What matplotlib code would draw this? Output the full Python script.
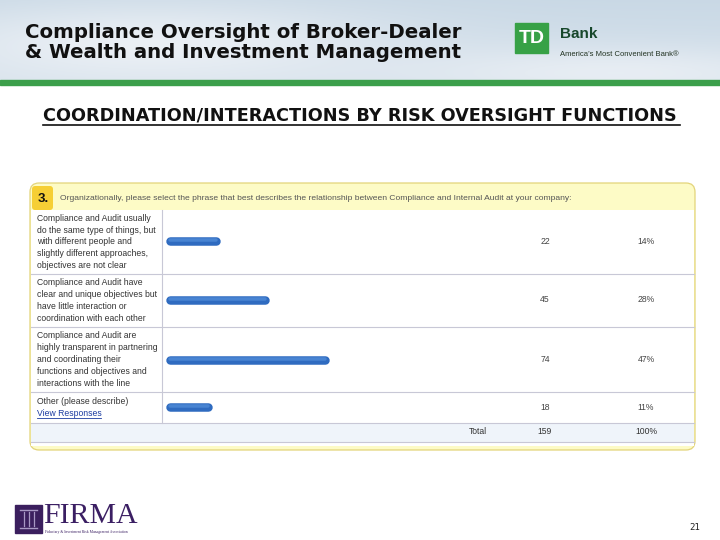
import numpy as np
import matplotlib
matplotlib.use("Agg")
import matplotlib.pyplot as plt
from matplotlib.patches import FancyBboxPatch, Rectangle

# ---------------- data ----------------
question_no = "3."
question = ("Organizationally, please select the phrase that best describes the "
            "relationship between Compliance and Internal Audit at your company:")
categories = [
    ["Compliance and Audit usually", "do the same type of things, but",
     "with different people and", "slightly different approaches,",
     "objectives are not clear"],
    ["Compliance and Audit have", "clear and unique objectives but",
     "have little interaction or", "coordination with each other"],
    ["Compliance and Audit are", "highly transparent in partnering",
     "and coordinating their", "functions and objectives and",
     "interactions with the line"],
    ["Other (please describe)"],
]
link_text = "View Responses"
counts = [22, 45, 74, 18]
percents = ["14%", "28%", "47%", "11%"]
total_label = "Total"
total_count = 159
total_pct = "100%"

title_lines = ["Compliance Oversight of Broker-Dealer", "& Wealth and Investment Management"]
subtitle = "COORDINATION/INTERACTIONS BY RISK OVERSIGHT FUNCTIONS"
page_no = "21"

# ---------------- layout (pixels) ----------------
W, H = 720, 540
row_bounds = [210, 274, 327, 392, 423]
bar_rows_center = [241, 300, 360, 407]
px_per_count = 2.1
bar_x0 = 170
line_pitch = 11.8
TXT = 6.25

fig = plt.figure(figsize=(7.2, 5.4), dpi=100)
ax = fig.add_axes([0, 0, 1, 1])
ax.set_xlim(0, W)
ax.set_ylim(H, 0)
ax.axis("off")

# header sky background
yy, xx = np.mgrid[0:80, 0:720]
base = np.array([0.79, 0.85, 0.90])
light = np.array([0.95, 0.96, 0.975])
t = 0.65 * np.exp(-((xx - 150) / 230.0) ** 2 - ((yy - 40) / 40.0) ** 2) \
    + 0.45 * np.exp(-((xx - 620) / 200.0) ** 2 - ((yy - 70) / 25.0) ** 2) \
    + 0.30 * (yy / 80.0)
t = np.clip(t, 0, 1)[..., None]
img = base * (1 - t) + light * t
ax.imshow(img, extent=(0, 720, 80, 0), aspect="auto", zorder=0)
ax.add_patch(Rectangle((0, 80), 720, 4.5, color="#3c9f4b", zorder=1))

# title
for i, line in enumerate(title_lines):
    ax.text(25, 38 + 20 * i, line, fontsize=14.2, fontweight="bold",
            family="DejaVu Sans", color="#111111", va="baseline", ha="left")

# TD logo
ax.add_patch(Rectangle((515, 23), 33, 30, color="#37a146", zorder=2))
ax.text(531.5, 38.5, "TD", color="white", fontsize=14, fontweight="bold",
        ha="center", va="center", family="Liberation Sans", zorder=3)
ax.text(560, 34, "Bank", color="#17472b", fontsize=11, fontweight="bold",
        ha="left", va="center", family="Liberation Sans")
ax.text(560, 55, "America\u2019s Most Convenient Bank\u00ae", color="#223322",
        fontsize=5.5, ha="left", va="center", family="Liberation Sans")

# subtitle (underlined)
ax.text(43, 121, subtitle, fontsize=12.7, fontweight="bold",
        family="DejaVu Sans", color="#111111", va="baseline", ha="left")
ax.plot([43, 680], [124.5, 124.5], color="#111111", lw=1.2)

# survey box
box = FancyBboxPatch((30, 183), 665, 267, boxstyle="round,pad=0,rounding_size=9",
                     fc="#fdfbc6", ec="#e3d47a", lw=0.9, zorder=2)
ax.add_patch(box)
ax.add_patch(Rectangle((31, 210), 663, 236, fc="white", ec="none", zorder=3))
ax.add_patch(Rectangle((31, 423), 663, 19, fc="#eff4fa", ec="none", zorder=3))
ax.add_patch(FancyBboxPatch((32, 186), 21, 24, boxstyle="round,pad=0,rounding_size=3",
                            fc="#f6cf35", ec="none", zorder=3))
ax.text(38, 199, question_no, fontsize=9.5, fontweight="bold", color="#111111",
        va="center", ha="left", family="Liberation Sans", zorder=4)
ax.text(60, 198, question, fontsize=6.1, color="#555555", va="center",
        ha="left", family="Liberation Sans", zorder=4)

for yb in row_bounds[1:] + [442]:
    ax.plot([31, 694], [yb, yb], color="#c8c8d6", lw=0.8, zorder=4)
ax.plot([162, 162], [row_bounds[0], row_bounds[-1]], color="#c8c8d6", lw=0.8, zorder=4)

for r, lines in enumerate(categories):
    top, bot = row_bounds[r], row_bounds[r + 1]
    n = len(lines) + (1 if r == 3 else 0)
    y0 = (top + bot) / 2 - (n - 1) * line_pitch / 2
    for k, line in enumerate(lines):
        ax.text(37, y0 + line_pitch * k, line, fontsize=TXT, color="#333333",
                va="center", ha="left", family="Liberation Sans", zorder=5)
    if r == 3:
        ax.text(37, y0 + line_pitch, link_text, fontsize=TXT, color="#1a3aa0",
                va="center", ha="left", family="Liberation Sans", zorder=5)
        ax.plot([37, 101], [y0 + line_pitch + 4.8, y0 + line_pitch + 4.8],
                color="#1a3aa0", lw=0.6, zorder=5)
    ax.text(545, bar_rows_center[r], str(counts[r]), fontsize=TXT, color="#444444",
            va="center", ha="center", family="Liberation Sans", zorder=5)
    ax.text(646, bar_rows_center[r], percents[r], fontsize=TXT, color="#444444",
            va="center", ha="center", family="Liberation Sans", zorder=5)

ax.text(478, 432, total_label, fontsize=TXT, color="#333333", va="center", ha="center",
        family="Liberation Sans", zorder=5)
ax.text(545, 432, str(total_count), fontsize=TXT, color="#333333", va="center",
        ha="center", family="Liberation Sans", zorder=5)
ax.text(646, 432, total_pct, fontsize=TXT, color="#333333", va="center",
        ha="center", family="Liberation Sans", zorder=5)

# bars axes (count scale)
bw = total_count * px_per_count
axb = fig.add_axes([bar_x0 / W, 1 - row_bounds[-1] / H, bw / W,
                    (row_bounds[-1] - row_bounds[0]) / H])
axb.set_xlim(0, total_count)
axb.set_ylim(row_bounds[-1], row_bounds[0])
axb.axis("off")
axb.patch.set_alpha(0)
lc = axb.hlines(bar_rows_center, 0, counts, colors="#2f6bc0", lw=8.5 * 0.72)
lc.set_capstyle("round")
lc.set_clip_on(False)
lc2 = axb.hlines([c - 1.2 for c in bar_rows_center], 0, counts, colors="#4884d2",
                 lw=3.5 * 0.72)
lc2.set_capstyle("round")
lc2.set_clip_on(False)

# footer: FIRMA logo
ax.add_patch(Rectangle((15, 505), 27, 28, color="#3b1f5e", zorder=2))
for cx in [23.5, 28.5, 33.5]:
    ax.plot([cx, cx], [512, 526], color="#a898c4", lw=0.9, zorder=3)
ax.plot([20, 37], [510, 510], color="#a898c4", lw=1.0, zorder=3)
ax.plot([20, 37], [528, 528], color="#a898c4", lw=1.0, zorder=3)
ax.text(43, 523, "FIRMA", fontsize=21.5, color="#3b1f63", family="Liberation Serif",
        va="baseline", ha="left")
ax.text(45, 532.5, "Fiduciary & Investment Risk Management Association", fontsize=2.7,
        color="#3b1f63", family="Liberation Serif", va="center", ha="left")
ax.text(695, 527, page_no, fontsize=6.5, color="#222222", family="DejaVu Sans Mono",
        va="center", ha="center")

fig.savefig("out.png", dpi=100)
